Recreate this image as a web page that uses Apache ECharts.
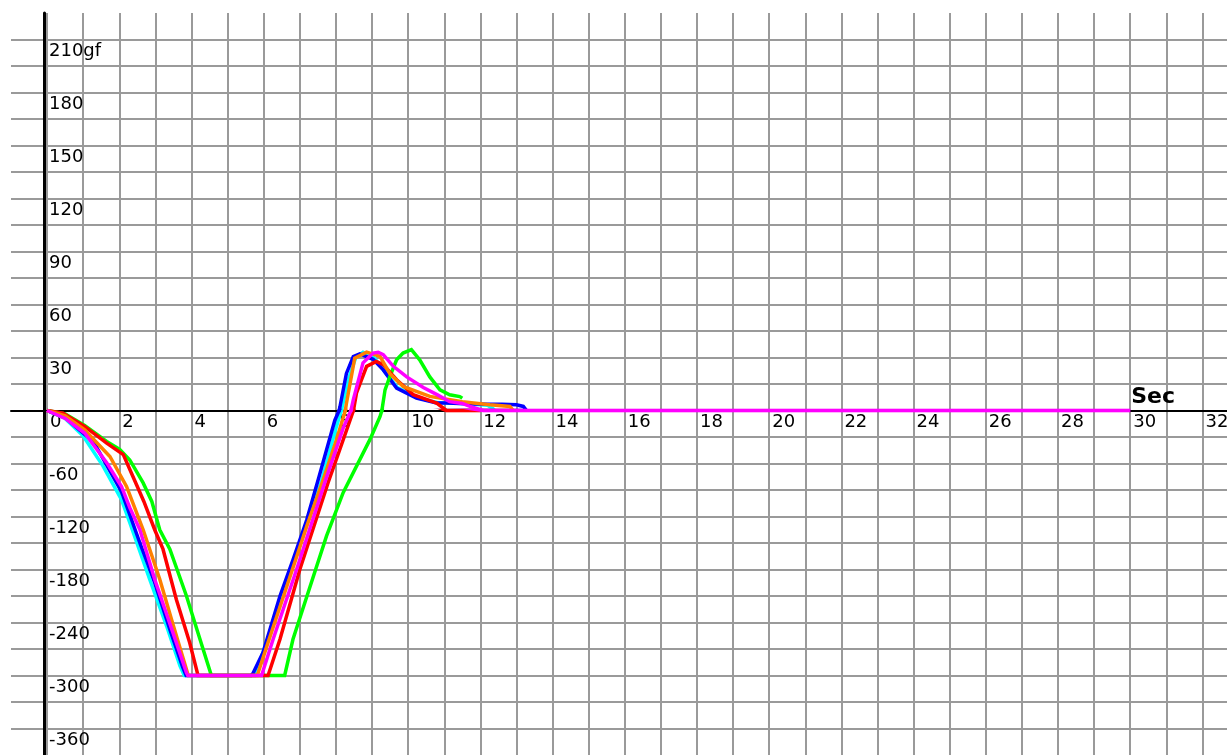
<!DOCTYPE html>
<html>
<head>
<meta charset="utf-8">
<script src="https://cdn.jsdelivr.net/npm/echarts@6/dist/echarts.min.js"></script>
<style>
html,body{margin:0;padding:0;background:#ffffff;}
#chart{width:1227px;height:755px;}
</style>
</head>
<body>
<div id="chart"></div>
<script>
// ---- data (time in seconds, force in gf) ----
const xUnit = 'Sec';
const yUnit = 'gf';
const xLabelStep = 2;          // x labels every 2 s
const yPosLabelStep = 30;      // positive y labels every 30 gf
const yNegLabelStep = 60;      // negative y labels every 60 gf

const cyanData = [[0,0],[0.5,-9],[1.0,-29],[1.55,-63],[2.06,-101],[2.29,-127],[2.84,-191],[3.31,-244],[3.68,-289],[3.8,-300],
  [5.75,-300],[6.05,-266],[6.5,-210],[6.85,-167],[7.25,-122],[7.6,-80],[8.0,-20],[8.15,0],[8.35,18],[8.55,30],[8.75,33],[9.05,30],[9.35,22],[9.7,13],[10.3,7],[10.8,4.5],[11.5,4],[12.2,3],[12.35,1],[12.4,0]];
const blueData = [[0,0],[0.5,-8],[1.04,-27],[1.28,-35],[1.65,-62],[2.06,-92],[2.29,-118],[2.57,-150],[2.98,-195],[3.4,-248],[3.75,-290],[3.85,-300],
  [5.65,-300],[5.71,-297],[5.98,-274],[6.45,-210],[6.81,-169],[7.19,-124],[7.51,-78],[7.97,-11],[8.11,2],[8.29,21],[8.48,30.5],[8.66,32],[9.03,29],[9.31,23],[9.68,12.7],[10.23,7],[10.79,4.2],[11.06,4.2],[11.6,3.8],[12.2,3.5],[12.6,3.5],[13.0,3.2],[13.19,2.3],[13.28,0]];
const greenData = [[0,0],[0.5,-4],[1.04,-17],[1.65,-35],[2.01,-44],[2.29,-56],[2.66,-82],[2.9,-103],[3.12,-135],[3.4,-157],[3.86,-210],[4.18,-252],[4.55,-300],
  [6.58,-300],[6.81,-259],[7.23,-206],[7.74,-142],[8.2,-93],[8.94,-33],[9.22,-7],[9.36,11.7],[9.49,19],[9.68,28.7],[9.86,32.5],[10.09,34.4],[10.32,28.7],[10.6,19],[10.88,11.7],[11.15,8.9],[11.43,7.9],[11.5,7]];
const redData = [[0,0],[0.44,-3],[1.04,-18],[1.65,-37],[2.11,-50],[2.38,-75],[2.68,-103],[2.98,-135],[3.21,-157],[3.58,-214],[3.95,-263],[4.18,-300],
  [6.12,-300],[6.45,-259],[7.0,-180],[7.78,-82],[8.1,-45],[8.57,10],[8.85,25],[9.12,27.8],[9.31,26],[9.68,17.4],[10.14,9],[10.79,4.2],[11.06,0],[12.0,0]];
const orangeData = [[0,0],[0.5,-6],[1.04,-22],[1.74,-52],[2.2,-86],[2.34,-101],[2.66,-135],[3.12,-191],[3.5,-244],[3.91,-300],
  [5.82,-300],[6.1,-265],[6.55,-210],[7.2,-130],[7.65,-78],[8.0,-35],[8.29,4],[8.52,29.6],[8.85,33],[9.22,30.6],[9.49,21],[9.86,13.6],[10.6,8],[11.5,5],[12.26,3.2],[12.82,2.3],[12.91,0]];
const magentaData = [[0,0],[0.5,-9],[1.04,-25.5],[1.65,-59],[2.06,-86],[2.29,-110],[2.57,-135],[2.98,-191],[3.49,-252],[3.86,-297],[3.9,-300],
  [5.94,-300],[6.26,-259],[6.91,-180],[7.72,-78],[8.2,-20],[8.48,6],[8.75,27],[9.03,32.5],[9.17,33],[9.31,31.6],[9.59,25],[9.96,19],[10.42,13],[10.8,9],[11.15,5],[11.5,4],[11.71,2.3],[12.08,0],[30,0]];

const seriesList = [
  {name:'cyan',    color:'#00ffff', data:cyanData},
  {name:'blue',    color:'#0000ff', data:blueData},
  {name:'green',   color:'#00ff00', data:greenData},
  {name:'red',     color:'#ff0000', data:redData},
  {name:'orange',  color:'#ff8000', data:orangeData},
  {name:'magenta', color:'#ff00ff', data:magentaData}
];

// ---- chart ----
const FONT = 'DejaVu Sans';
const FONT_SIZE = 18;
const gridColor = '#9a9a9a';
const chart = echarts.init(document.getElementById('chart'), null, {renderer:'canvas'});

const xCommon = {
  type:'value', min:-1, max:32.68, interval:1,
  splitLine:{show:true, showMinLine:false, showMaxLine:false, lineStyle:{color:gridColor, width:2}},
  axisTick:{show:false}
};
const yLine = {show:true, onZero:false, lineStyle:{color:'#000', width:3}};

const series = [];
seriesList.forEach(s => {
  [0,1].forEach(g => {
    series.push({
      name:s.name, type:'line', xAxisIndex:g, yAxisIndex:g,
      data:s.data, showSymbol:false, symbol:'none', clip:true,
      lineStyle:{color:s.color, width:3.5, join:'miter'}, itemStyle:{color:s.color},
      z: 3
    });
  });
});

chart.setOption({
  animation:false,
  backgroundColor:'#ffffff',
  grid:[
    {left:11, right:0, top:13, height:397.5, containLabel:false, outerBoundsMode:'none'},
    {left:11, right:0, top:410.5, bottom:0, containLabel:false, outerBoundsMode:'none'}
  ],
  xAxis:[
    Object.assign({}, xCommon, {
      gridIndex:0, position:'bottom',
      axisLine:{show:true, onZero:false, lineStyle:{color:'#000', width:2}},
      axisLabel:{
        show:true, interval:0, hideOverlap:false, showMinLabel:true, showMaxLabel:true,
        margin:3, align:'left', padding:[0,0,0,3],
        color:'#000', fontFamily:FONT, fontSize:FONT_SIZE,
        formatter:v => (v >= 0 && Number.isInteger(v) && v % xLabelStep === 0) ? String(v) : ''
      }
    }),
    Object.assign({}, xCommon, {
      gridIndex:1, position:'top',
      axisLine:{show:false}, axisLabel:{show:false}
    })
  ],
  yAxis:[
    {
      type:'value', gridIndex:0, min:0, max:225, interval:15, position:'left', offset:-33,
      axisLine:yLine, axisTick:{show:false},
      splitLine:{show:true, showMinLine:false, showMaxLine:false, lineStyle:{color:gridColor, width:2}},
      axisLabel:{
        show:true, inside:true, interval:0, margin:5, align:'left', verticalAlign:'top', padding:[3,0,0,0],
        showMinLabel:true, showMaxLabel:true, hideOverlap:false,
        color:'#000', fontFamily:FONT, fontSize:FONT_SIZE,
        formatter:v => (v > 0 && v % yPosLabelStep === 0) ? (v === 210 ? v + yUnit : String(v)) : ''
      }
    },
    {
      type:'value', gridIndex:1, min:-390, max:0, interval:30, position:'left', offset:-33,
      axisLine:yLine, axisTick:{show:false},
      splitLine:{show:true, showMinLine:false, showMaxLine:false, lineStyle:{color:gridColor, width:2}},
      axisLabel:{
        show:true, inside:true, interval:0, margin:5, align:'left', verticalAlign:'top', padding:[3,0,0,0],
        showMinLabel:true, showMaxLabel:true, hideOverlap:false,
        color:'#000', fontFamily:FONT, fontSize:FONT_SIZE,
        formatter:v => (v < 0 && v % yNegLabelStep === 0) ? String(v) : ''
      }
    }
  ],
  series:series
});

// unit label "Sec" placed at x = 30 s on the time axis
const p = chart.convertToPixel({xAxisIndex:0, yAxisIndex:0}, [30, 0]);
chart.setOption({
  graphic:[{
    type:'text', x:p[0] + 1, y:p[1] - 2, z:10,
    style:{text:xUnit, font:'bold 22px "DejaVu Sans"', fill:'#000', align:'left', verticalAlign:'bottom'}
  }]
});
</script>
</body>
</html>
